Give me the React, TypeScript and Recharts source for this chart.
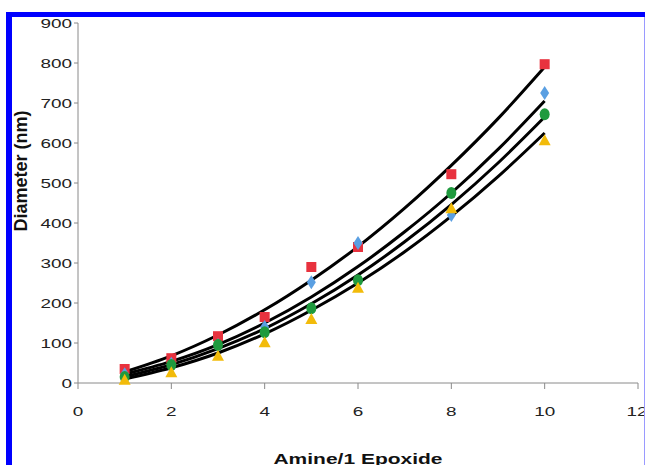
import { ComposedChart, Scatter, Line, XAxis, YAxis, Label } from 'recharts';

// measured points (Amine / 1 Epoxide ratio vs particle diameter, nm)
const ratios = [1, 2, 3, 4, 5, 6, 8, 10];
const redDiam = [35, 62, 117, 165, 290, 340, 522, 797];
const blueDiam = [22, 48, 95, 140, 252, 350, 420, 725];
const greenDiam = [15, 45, 95, 127, 187, 257, 475, 672];
const yellowDiam = [8, 27, 68, 102, 160, 238, 437, 607];

// trend lines
const fitRatios = [1, 2, 3, 4, 5, 6, 7, 8, 9, 10];
const redFit = [28, 68, 120, 183, 257, 341, 437, 544, 661, 790];
const blueFit = [22, 54, 96, 150, 215, 291, 378, 475, 584, 705];
const greenFit = [16, 46, 86, 136, 198, 270, 353, 446, 550, 665];
const yellowFit = [10, 38, 75, 123, 182, 250, 328, 417, 516, 625];

const xTicks = [0, 2, 4, 6, 8, 10, 12];
const yTicks = [0, 100, 200, 300, 400, 500, 600, 700, 800, 900];

const toPoints = (xs: number[], ys: number[]) => xs.map((x, i) => ({ x, y: ys[i] }));

const FONT = '"Liberation Sans", Arial, sans-serif';
const STRETCH = 1.4;

const YTick = ({ x, y, payload }: any) => (
  <g transform={`translate(${x},${y})`}>
    <text transform={`scale(${STRETCH},1)`} textAnchor="end" dy={4.6} fontSize={13.5} fill="#222" fontFamily={FONT}>
      {payload.value}
    </text>
  </g>
);

const XTick = ({ x, y, payload }: any) => (
  <g transform={`translate(${x},${y})`}>
    <text transform={`scale(${STRETCH},1)`} textAnchor="middle" dy={4.6} fontSize={13.5} fill="#222" fontFamily={FONT}>
      {payload.value}
    </text>
  </g>
);

const Square = ({ cx, cy }: any) => <rect x={cx - 5} y={cy - 5} width={10} height={10} fill="#e8323e" />;
const Diamond = ({ cx, cy }: any) => (
  <path d={`M${cx},${cy - 7}L${cx + 4.5},${cy}L${cx},${cy + 7}L${cx - 4.5},${cy}Z`} fill="#5a9fe2" />
);
const Dot = ({ cx, cy }: any) => <ellipse cx={cx} cy={cy} rx={5} ry={6} fill="#1f9a3e" />;
const Tri = ({ cx, cy }: any) => (
  <path d={`M${cx},${cy - 6}L${cx + 6},${cy + 5}L${cx - 6},${cy + 5}Z`} fill="#f2bb0a" />
);

export default function App() {
  return (
    <div style={{ position: 'absolute', left: 0, top: 0, width: 645, height: 465, background: '#fff', overflow: 'hidden' }}>
      <ComposedChart width={645} height={465} margin={{ top: 23, right: 7, bottom: 52, left: 18 }}>
        <XAxis
          type="number"
          dataKey="x"
          domain={[0, 12]}
          ticks={xTicks}
          tickSize={6}
          tickMargin={22}
          stroke="#8a8a8a"
          tick={<XTick />}
          height={30}
        >
          <Label
            content={({ viewBox }: any) => (
              <text
                x={viewBox.x + viewBox.width / 2}
                y={viewBox.y + 81}
                transform={`translate(${viewBox.x + viewBox.width / 2},0) scale(${STRETCH},1) translate(${-(viewBox.x + viewBox.width / 2)},0)`}
                textAnchor="middle"
                fontSize={15}
                fontWeight="bold"
                fill="#111"
                fontFamily={FONT}
              >
                Amine/1 Epoxide
              </text>
            )}
          />
        </XAxis>
        <YAxis
          type="number"
          dataKey="y"
          domain={[0, 900]}
          ticks={yTicks}
          tickSize={4}
          tickMargin={2}
          stroke="#8a8a8a"
          tick={<YTick />}
          width={60}
        >
          <Label
            content={({ viewBox }: any) => (
              <text
                x={viewBox.x + 9}
                y={viewBox.y + 148}
                transform={`rotate(-90, ${viewBox.x + 9}, ${viewBox.y + 148})`}
                textAnchor="middle"
                fontSize={18}
                fontWeight="bold"
                fill="#111"
                fontFamily={FONT}
              >
                Diameter (nm)
              </text>
            )}
          />
        </YAxis>
        <Scatter data={toPoints(ratios, redDiam)} shape={<Square />} isAnimationActive={false} />
        <Scatter data={toPoints(ratios, blueDiam)} shape={<Diamond />} isAnimationActive={false} />
        <Scatter data={toPoints(ratios, greenDiam)} shape={<Dot />} isAnimationActive={false} />
        <Scatter data={toPoints(ratios, yellowDiam)} shape={<Tri />} isAnimationActive={false} />
        <Line data={toPoints(fitRatios, redFit)} dataKey="y" type="monotone" stroke="#000" strokeWidth={3} dot={false} isAnimationActive={false} />
        <Line data={toPoints(fitRatios, blueFit)} dataKey="y" type="monotone" stroke="#000" strokeWidth={3} dot={false} isAnimationActive={false} />
        <Line data={toPoints(fitRatios, greenFit)} dataKey="y" type="monotone" stroke="#000" strokeWidth={3} dot={false} isAnimationActive={false} />
        <Line data={toPoints(fitRatios, yellowFit)} dataKey="y" type="monotone" stroke="#000" strokeWidth={3} dot={false} isAnimationActive={false} />
      </ComposedChart>
      {/* blue frame around the figure */}
      <div style={{ position: 'absolute', left: 0, top: 0, width: 645, height: 12, background: '#fff' }} />
      <div style={{ position: 'absolute', left: 0, top: 0, width: 6, height: 465, background: '#fff' }} />
      <div style={{ position: 'absolute', left: 6, top: 12, width: 639, height: 5, background: '#0000ff' }} />
      <div style={{ position: 'absolute', left: 6, top: 12, width: 6, height: 453, background: '#0000ff' }} />
      <div style={{ position: 'absolute', left: 644, top: 17, width: 1, height: 448, background: '#9a9aff' }} />
    </div>
  );
}
